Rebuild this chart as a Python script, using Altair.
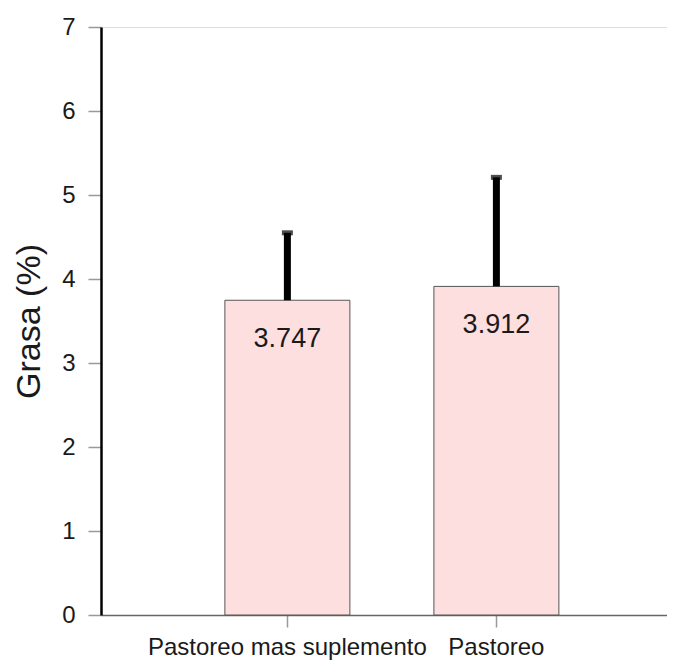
import altair as alt
import pandas as pd

categories = ["Pastoreo mas suplemento", "Pastoreo"]
values = [3.747, 3.912]
upper = [4.55, 5.21]
labels = ["3.747", "3.912"]

df = pd.DataFrame({"cat": categories, "val": values, "up": upper, "lab": labels})

FONT = "Liberation Sans"

x = alt.X("cat:N", sort=categories, title=None,
          scale=alt.Scale(paddingInner=0.402, paddingOuter=0.555, align=0.534),
          axis=alt.Axis(labelAngle=0, labelFontSize=24, labelFont=FONT, labelColor="#1a1a1a",
                        tickColor="#999", tickSize=12, tickWidth=1.5, domainColor="#666",
                        domainWidth=1.5, labelPadding=8, grid=False, labelLimit=400))
y = alt.Y("val:Q", title="Grasa (%)",
          scale=alt.Scale(domain=[0, 7], nice=False),
          axis=alt.Axis(values=[0, 1, 2, 3, 4, 5, 6, 7], format="d", labelFontSize=24,
                        labelFont=FONT, labelColor="#1a1a1a", tickColor="#999", tickSize=13,
                        tickWidth=1.5, domainColor="#000", domainWidth=2.5, labelPadding=13,
                        grid=False, titleFont=FONT, titleFontSize=34, titleFontWeight="normal",
                        titleColor="#1a1a1a", titleX=-55, titleY=294, titleAngle=270,
                        titleBaseline="bottom", titleAlign="center"))

base = alt.Chart(df)

bars = base.mark_bar(fill="#fddfe0", stroke="#555", strokeWidth=1).encode(x=x, y=y)

err = base.mark_rule(color="#000", strokeWidth=7).encode(
    x=alt.X("cat:N", sort=categories), y="val:Q", y2="up:Q")

cap = base.mark_tick(color="#000", thickness=5, size=11, orient="horizontal").encode(
    x=alt.X("cat:N", sort=categories), y="up:Q")

text = base.mark_text(dy=0, fontSize=27, font=FONT, color="#1a1a1a",
                      baseline="alphabetic").encode(
    x=alt.X("cat:N", sort=categories),
    y=alt.Y("val:Q"),
    yOffset=alt.value(47),
    text="lab:N")

chart = alt.layer(bars, err, cap, text).properties(
    width=566, height=588,
    autosize=alt.AutoSizeParams(type="none"),
    padding={"left": 93, "top": 19, "right": 0, "bottom": 45},
).configure_view(stroke=None).configure(background="white")

chart.save("out.html", embed_options={"renderer": "svg", "actions": False})
